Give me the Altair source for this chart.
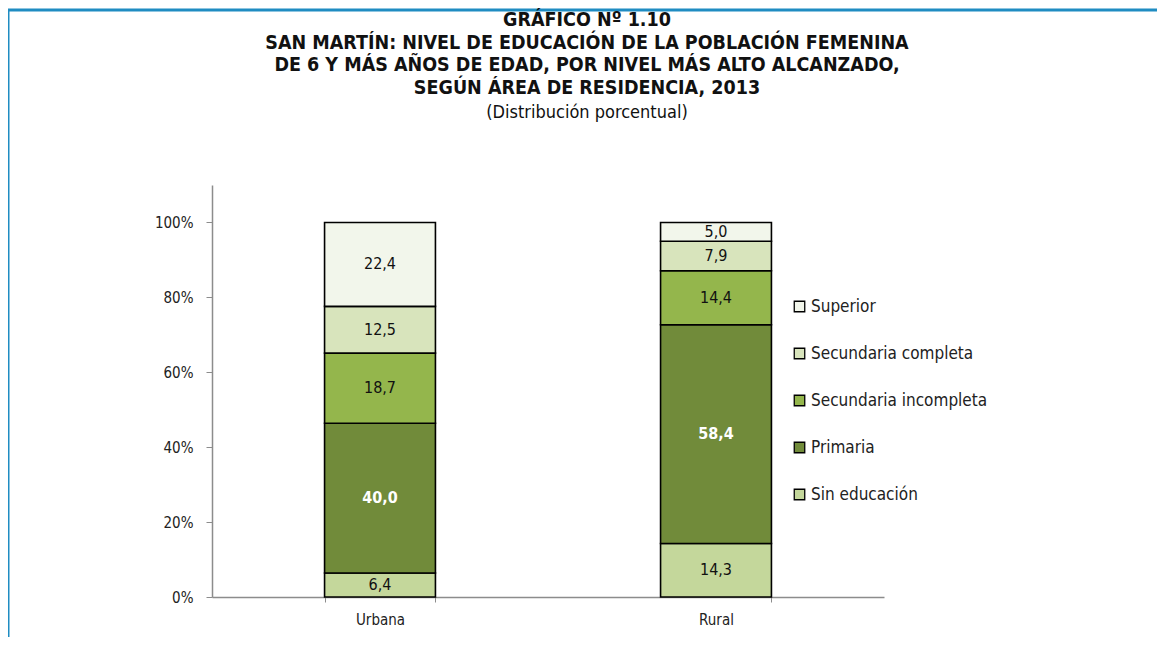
import altair as alt
import pandas as pd

areas = ["Urbana", "Rural"]
niveles = ["Sin educación", "Primaria", "Secundaria incompleta", "Secundaria completa", "Superior"]
urbana = [6.4, 40.0, 18.7, 12.5, 22.4]
rural = [14.3, 58.4, 14.4, 7.9, 5.0]
colores = ["#c4d79b", "#718b3a", "#94b64c", "#d8e4bc", "#f2f6eb"]
legend_order = ["Superior", "Secundaria completa", "Secundaria incompleta", "Primaria", "Sin educación"]
y_ticks = [0, 20, 40, 60, 80, 100]
title_lines = ["GRÁFICO Nº 1.10",
               "SAN MARTÍN: NIVEL DE EDUCACIÓN DE LA POBLACIÓN FEMENINA",
               "DE 6 Y MÁS AÑOS DE EDAD, POR NIVEL MÁS ALTO ALCANZADO,",
               "SEGÚN ÁREA DE RESIDENCIA, 2013"]
subtitle = "(Distribución porcentual)"

rows = []
for area, vals in zip(areas, [urbana, rural]):
    for i, (n, v) in enumerate(zip(niveles, vals)):
        rows.append({"area": area, "nivel": n, "valor": v, "idx": i,
                     "label": f"{v:.1f}".replace(".", ","),
                     "white": n == "Primaria"})
df = pd.DataFrame(rows)

FONT = "Liberation Sans Narrow, Arial Narrow, DejaVu Sans Condensed, sans-serif"

PX0, PY0 = 212, 185  # plot origin on page
W, H = 672, 412
TITLE_X = 587 - PX0

color_scale = alt.Scale(domain=legend_order,
                        range=[colores[niveles.index(n)] for n in legend_order])

base = alt.Chart(df).transform_stack(
    stack="valor", groupby=["area"], as_=["y0", "y1"],
    sort=[alt.SortField("idx", order="ascending")]
).transform_calculate(mid="(datum.y0 + datum.y1) / 2")

x_enc = alt.X("area:N", sort=areas, title=None,
              scale=alt.Scale(paddingInner=0.67, paddingOuter=0.335),
              axis=alt.Axis(labelAngle=0, labelFontSize=15, labelColor="#222",
                            labelFont=FONT, domainColor="#8c8c8c", tickColor="#8c8c8c",
                            tickBand="extent", tickSize=5, labelPadding=10,
                            domainWidth=1.5))

bars = base.mark_bar(stroke="black", strokeWidth=1.6).encode(
    x=x_enc,
    y=alt.Y("y0:Q", title=None,
            scale=alt.Scale(domain=[0, 110], nice=False),
            axis=alt.Axis(values=y_ticks, labelExpr="datum.value + '%'",
                          labelFontSize=15, labelColor="#222", labelFont=FONT,
                          grid=False, domainColor="#8c8c8c", tickColor="#8c8c8c",
                          tickSize=6, labelPadding=13, domainWidth=1.5)),
    y2="y1:Q",
    color=alt.Color("nivel:N", scale=color_scale, sort=legend_order,
                    legend=alt.Legend(title=None, orient="none",
                                      legendX=579, legendY=113,
                                      symbolType="square", symbolSize=110,
                                      symbolStrokeColor="black", symbolStrokeWidth=1.3,
                                      labelFontSize=17, labelFont=FONT, labelColor="#222",
                                      labelLimit=400,
                                      rowPadding=29, labelOffset=3)),
    order=alt.Order("idx:Q")
)

labels_black = base.transform_filter("!datum.white").mark_text(
    fontSize=16, font=FONT, color="#111", baseline="middle").encode(
    x=alt.X("area:N", sort=areas), y="mid:Q", text="label:N")

labels_white = base.transform_filter("datum.white").mark_text(
    fontSize=16, font=FONT, color="white", fontWeight="bold", baseline="middle").encode(
    x=alt.X("area:N", sort=areas), y="mid:Q", text="label:N")

one = pd.DataFrame({"a": [0]})
frame_top = alt.Chart(one).mark_rule(color="#1f8cc2", strokeWidth=3).encode(
    x=alt.value(-PX0 + 8), x2=alt.value(1167 - PX0), y=alt.value(-PY0 + 10))
frame_left = alt.Chart(one).mark_rule(color="#1f8cc2", strokeWidth=3).encode(
    x=alt.value(-PX0 + 8), y=alt.value(-PY0 + 9), y2=alt.value(662 - PY0))

title_mark = alt.Chart(one).mark_text(
    text=title_lines, font=FONT, fontSize=19.5, fontWeight="bold", color="#111",
    lineHeight=22.7, align="center", baseline="alphabetic").encode(
    x=alt.value(TITLE_X), y=alt.value(26 - PY0))
subtitle_mark = alt.Chart(one).mark_text(
    text=subtitle, font=FONT, fontSize=18, color="#111",
    align="center", baseline="alphabetic").encode(
    x=alt.value(TITLE_X), y=alt.value(118 - PY0))

chart = alt.layer(frame_top, frame_left, title_mark, subtitle_mark,
                  bars, labels_black, labels_white).properties(
    width=W, height=H,
    autosize=alt.AutoSizeParams(type="none"),
    padding={"left": PX0 - 8, "top": PY0 - 8, "right": 1159 - PX0 - W - 2, "bottom": 40},
).configure(background="white", view=alt.ViewConfig(stroke="transparent", strokeWidth=0))

chart.save("out.html", embed_options={"renderer": "svg", "actions": False})
